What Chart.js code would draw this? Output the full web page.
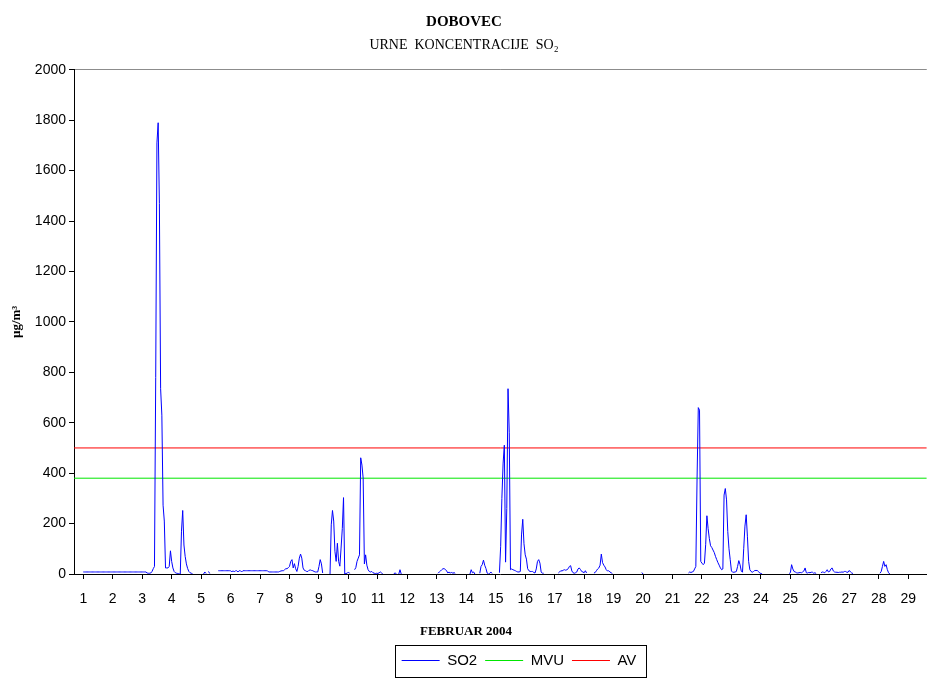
<!DOCTYPE html>
<html>
<head>
<meta charset="utf-8">
<script src="https://cdn.jsdelivr.net/npm/chart.js@4.4.1/dist/chart.umd.min.js"></script>
<style>
  body { margin: 0; background: #fff; }
</style>
</head>
<body>
<canvas id="dobovec" width="928" height="688"></canvas>
<script>
// days of the month shown on the x axis
const days = [1, 2, 3, 4, 5, 6, 7, 8, 9, 10, 11, 12, 13, 14, 15, 16, 17, 18, 19, 20, 21, 22, 23, 24, 25, 26, 27, 28, 29];

// hourly SO2 (µg/m3), one row per day, hours 0..23, null = no measurement
const so2ByDay = [
  [8, 8, 8, 8, 8, 8, 8, 8, 8, 8, 8, 8, 8, 8, 8, 8, 8, 8, 8, 8, 8, 8, 8, 8],
  [8, 8, 8, 8, 8, 8, 8, 8, 8, 8, 8, 8, 8, 8, 8, 8, 8, 8, 8, 8, 8, 8, 8, 8],
  [8, 8, 8, 8, 4, 3, 3, 4, 10, 21, 30, 780, 1710, 1790, 1470, 735, 630, 273, 210, 24, 24, 24, 30, 92],
  [50, 24, 10, 5, 3, 2, 0, 0, 170, 252, 115, 70, 40, 22, 10, 5, 3, 1, null, null, null, null, null, null],
  [null, null, 0, 8, 2, null, 10, 2, null, null, null, null, null, null, 13, 13, 13, 13, 13, 13, 13, 13, 13, 13],
  [13, 8, 13, 8, 13, 13, 8, 13, 13, 8, 13, 13, 13, 13, 13, 13, 13, 13, 13, 13, 13, 13, 13, 13],
  [13, 13, 13, 13, 13, 13, 13, 8, 8, 8, 8, 8, 8, 8, 8, 8, 10, 12, 13, 13, 17, 21, 21, 25],
  [30, 50, 57, 24, 41, 21, 10, 30, 63, 79, 63, 24, 15, 13, 10, 10, 15, 16, 14, 13, 10, 8, 8, 8],
  [30, 57, 40, 4, null, null, null, null, null, 0, 195, 252, 210, 90, 50, 122, 50, 31, 103, 180, 303, 0, 2, 3],
  [8, 2, null, null, null, 17, 25, 50, 63, 76, 461, 432, 380, 40, 76, 35, 17, 10, 8, 10, 5, 3, 2, 3],
  [2, 5, 8, 4, 0, null, null, null, null, null, null, null, null, 0, 5, 0, null, 0, 17, 0, null, null, null, null],
  [null, null, null, null, null, null, null, null, null, null, null, null, null, null, null, null, null, null, null, null, null, null, null, null],
  [null, 3, 8, 12, 17, 21, 21, 18, 12, 4, 8, 3, 8, 2, 6, 2, null, null, null, null, null, null, null, null],
  [null, null, null, 0, 17, 5, 8, 0, null, null, null, 3, 30, 37, 55, 35, 22, 4, 0, 2, 8, 2, null, null],
  [null, null, null, 5, 110, 300, 440, 511, 47, 260, 735, 560, 17, 20, 17, 15, 13, 10, 8, 8, 10, 155, 217, 120],
  [76, 59, 21, 13, 10, 10, 10, 6, 4, 20, 50, 57, 43, 8, 3, 3, null, null, null, null, null, null, null, null],
  [null, null, null, 4, 8, 13, 12, 15, 17, 15, 17, 21, 30, 33, 12, 5, 3, 5, 8, 20, 24, 18, 10, 8],
  [5, 13, 4, null, null, null, null, null, 4, 6, 13, 20, 24, 35, 79, 45, 35, 28, 17, 12, 13, 8, 5, 2],
  [null, null, null, null, null, null, null, null, null, null, null, null, null, null, null, null, null, null, null, null, null, null, null, 6],
  [0, null, null, null, null, null, null, null, null, null, null, null, null, null, null, null, null, null, null, null, null, null, null, null],
  [null, null, null, null, null, null, null, null, null, null, null, null, null, 4, 8, 6, 8, 10, 20, 30, 380, 660, 650, 50],
  [43, 37, 43, 116, 231, 180, 140, 112, 105, 95, 85, 70, 57, 45, 35, 24, 17, 20, 313, 339, 294, 169, 100, 57],
  [12, 7, 7, 8, 10, 30, 53, 37, 12, 7, 100, 190, 235, 150, 50, 17, 10, 7, 10, 14, 14, 14, 10, 4],
  [2, 0, null, null, null, null, null, null, null, null, null, null, null, null, null, null, null, null, null, null, null, null, null, 2],
  [5, 37, 20, 10, 8, 5, 4, 5, 6, 5, 8, 12, 24, 5, 4, 6, 5, 7, 7, 3, 5, 2, null, null],
  [null, 5, 8, 7, 5, 10, 17, 8, 10, 20, 24, 12, 8, 7, 7, 6, 7, 7, 8, 7, 10, 10, 7, 7],
  [14, 8, 4, 2, null, null, null, null, null, null, null, null, null, null, null, null, null, null, null, null, null, null, null, null],
  [null, 3, 10, 30, 50, 30, 37, 17, 5, 0, null, null, null, null, null, null, null, null, null, null, null, null, null, null],
  [null, null, null, null, null, null, null, null, null, null, null, null, null, null, null, null, null, null, null, null, null, null, null, null]
];

// limit values
const mvu = 380;
const av = 500;

// visible x range (in days)
const xFrom = 0.685;
const xTo = 29.63;

const xTitle = 'FEBRUAR 2004';

const so2Points = [];
so2ByDay.forEach((row, d) => {
  row.forEach((v, h) => so2Points.push({ x: days[d] + h / 24, y: v }));
});

const sans = 'Liberation Sans';
const serif = 'Liberation Serif';

// legend sits right of centre, in a thin black frame;
// the x axis caption is centred on the whole canvas, not on the plot
const frameAndCaption = {
  id: 'frameAndCaption',
  afterUpdate(chart) {
    const lg = chart.legend;
    lg.left += 55;
    lg.right += 55;
    lg.adjustHitBoxes();
  },
  afterDraw(chart) {
    const ctx = chart.ctx;
    const lg = chart.legend;
    const boxes = lg.legendHitBoxes;
    ctx.save();
    if (boxes && boxes.length) {
      const left = Math.min(...boxes.map(b => b.left)) - 7;
      const right = Math.max(...boxes.map(b => b.left + b.width)) + 9;
      ctx.strokeStyle = '#000';
      ctx.lineWidth = 1;
      ctx.strokeRect(Math.round(left) + 0.5, Math.round(lg.top) + 0.5,
        Math.round(right - left), Math.round(lg.bottom - lg.top) - 1);
    }
    ctx.fillStyle = '#000';
    ctx.font = 'bold 13px "' + serif + '"';
    ctx.textAlign = 'center';
    ctx.textBaseline = 'middle';
    ctx.fillText(xTitle, 466, 632);
    ctx.restore();
  }
};

new Chart(document.getElementById('dobovec'), {
  type: 'line',
  data: {
    datasets: [
      {
        label: 'SO2',
        data: so2Points,
        borderColor: '#0000ff',
        backgroundColor: '#0000ff',
        borderWidth: 1,
        pointRadius: 0,
        tension: 0,
        spanGaps: false
      },
      {
        label: 'MVU',
        data: [{ x: xFrom, y: mvu }, { x: xTo, y: mvu }],
        borderColor: '#00e600',
        backgroundColor: '#00e600',
        borderWidth: 1,
        pointRadius: 0
      },
      {
        label: 'AV',
        data: [{ x: xFrom, y: av }, { x: xTo, y: av }],
        borderColor: '#ff0000',
        backgroundColor: '#ff0000',
        borderWidth: 1,
        pointRadius: 0
      }
    ]
  },
  options: {
    responsive: false,
    animation: false,
    layout: { padding: { top: 0, left: 0, right: 0, bottom: 10 } },
    plugins: {
      title: {
        display: true,
        text: 'DOBOVEC',
        color: '#000',
        font: { family: serif, size: 15, weight: 'bold' },
        padding: { top: 13, bottom: 0 }
      },
      subtitle: {
        display: true,
        text: 'URNE  KONCENTRACIJE  SO₂',
        color: '#000',
        font: { family: serif, size: 14, weight: 'normal' },
        padding: { top: 6, bottom: 16 }
      },
      legend: {
        position: 'bottom',
        labels: {
          usePointStyle: true,
          pointStyle: 'line',
          pointStyleWidth: 38,
          padding: 8,
          color: '#000',
          font: { family: sans, size: 15 }
        }
      },
      tooltip: { enabled: false }
    },
    scales: {
      x: {
        type: 'linear',
        min: xFrom,
        max: xTo,
        afterBuildTicks: s => { s.ticks = days.map(v => ({ value: v })); },
        afterFit: s => { s.height = 71; },
        ticks: {
          color: '#000',
          font: { family: sans, size: 14 },
          padding: 12,
          autoSkip: false,
          maxRotation: 0,
          callback: v => String(v)
        },
        grid: { drawOnChartArea: false, tickColor: '#000', tickLength: 5 },
        border: { color: '#000', width: 1 }
      },
      y: {
        min: 0,
        max: 2000,
        afterFit: s => { s.width = 74; },
        ticks: {
          stepSize: 200,
          color: '#000',
          font: { family: sans, size: 14 },
          padding: 3,
          callback: v => String(v)
        },
        grid: {
          color: c => (c.tick && c.tick.value === 2000 ? '#8c8c8c' : 'rgba(0,0,0,0)'),
          tickColor: '#000',
          tickLength: 5
        },
        border: { color: '#000', width: 1 },
        title: {
          display: true,
          text: 'µg/m³',
          color: '#000',
          font: { family: serif, size: 13, weight: 'bold' },
          padding: { top: 9, bottom: 0 }
        }
      }
    }
  },
  plugins: [frameAndCaption]
});
</script>
</body>
</html>
